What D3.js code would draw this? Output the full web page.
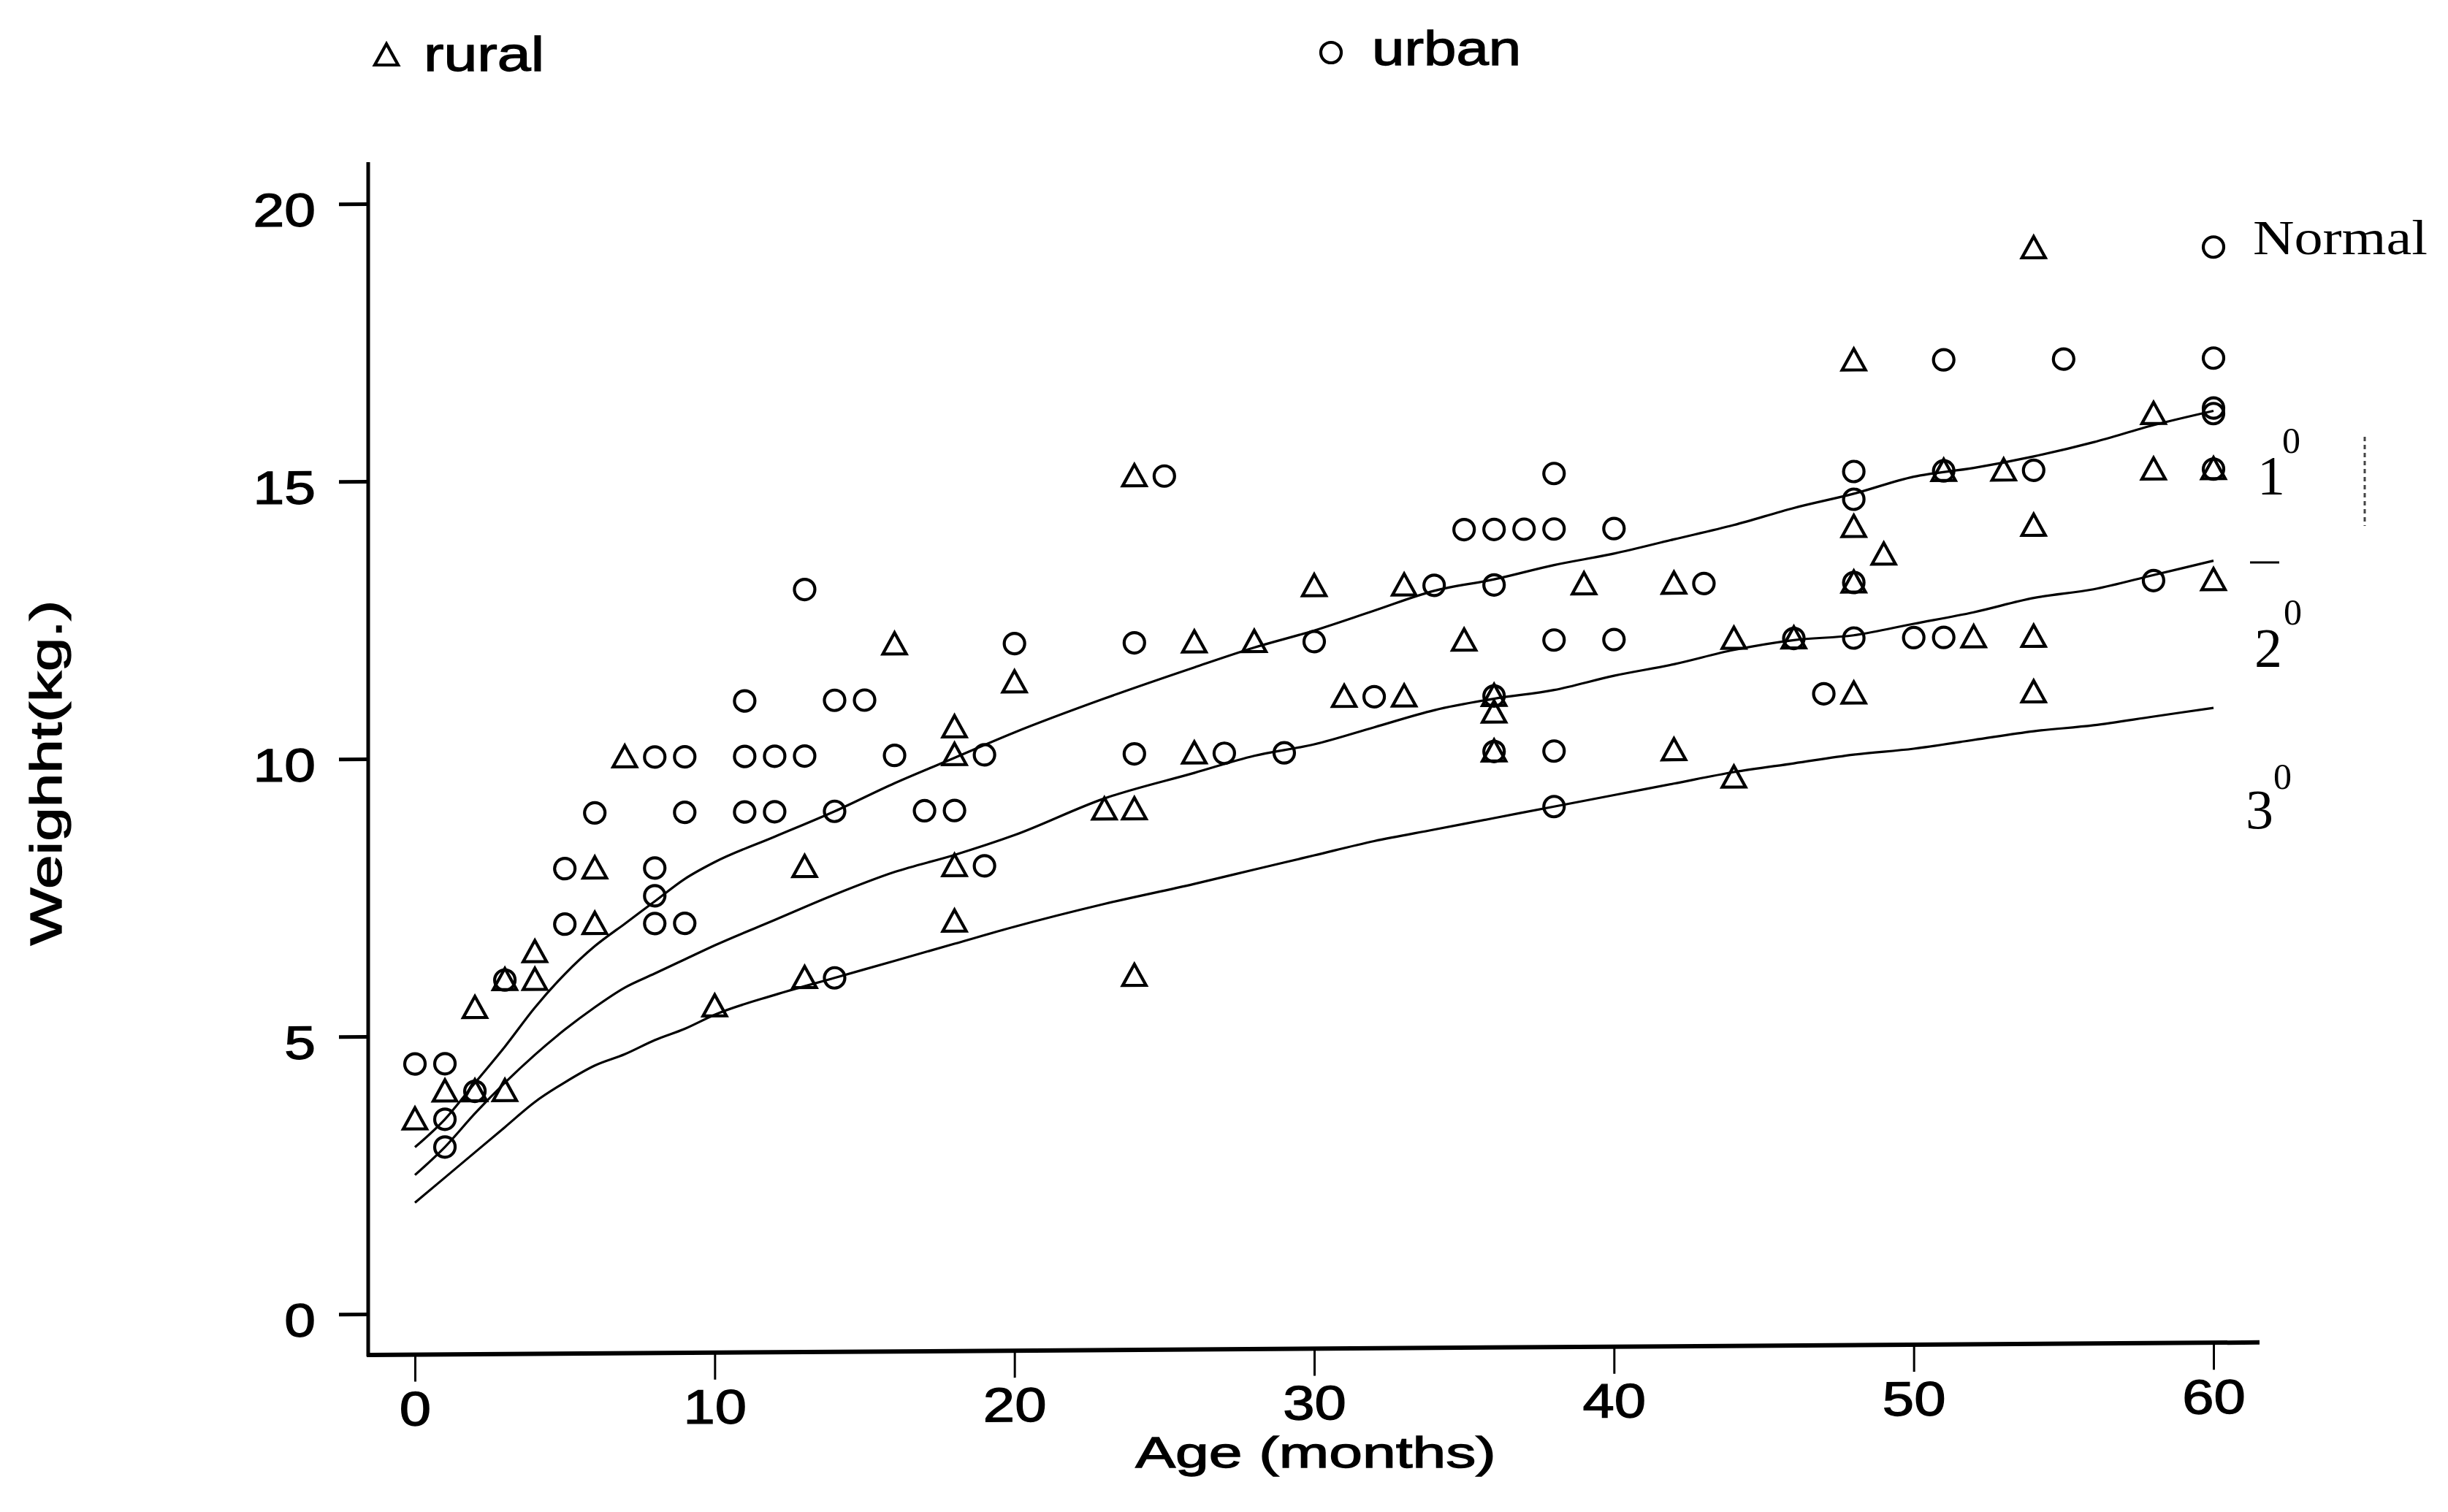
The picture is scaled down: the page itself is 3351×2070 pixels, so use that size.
<!DOCTYPE html>
<html>
<head>
<meta charset="utf-8">
<script src="https://cdn.jsdelivr.net/npm/d3@7"></script>
<style>
  html, body { margin: 0; padding: 0; background: #ffffff; }
  svg { display: block; }
</style>
</head>
<body>
<svg id="chart"></svg>
<script>
// axis ticks
const xTicks = [0, 10, 20, 30, 40, 50, 60];
const yTicks = [0, 5, 10, 15, 20];

// rural children (triangles): [age in months, weight in kg]
const ruralPoints = [
  [0, 3.5], [1, 4], [2, 5.5], [2, 4], [3, 6], [3, 4], [4, 6.5], [4, 6],
  [6, 8], [6, 7], [7, 10], [10, 5.5], [13, 8], [13, 6], [16, 12],
  [18, 10.5], [18, 10], [18, 8], [18, 7], [20, 11.3], [23, 9], [24, 15],
  [24, 9], [24, 6], [26, 12], [26, 10], [28, 12], [30, 13], [31, 11],
  [33, 13], [33, 11], [35, 12], [36, 11], [36, 10.7], [36, 10], [39, 13],
  [42, 13], [42, 10], [44, 12], [44, 9.5], [46, 12], [48, 17], [48, 14],
  [48, 13], [48, 11], [49, 13.5], [51, 15], [52, 12], [53, 15], [54, 19],
  [54, 14], [54, 12], [54, 11], [58, 16], [58, 15], [60, 15], [60, 13]
];

// urban children (circles): [age in months, weight in kg]
const urbanPoints = [
  [0, 4.5], [1, 4.5], [1, 3.5], [1, 3], [2, 4], [3, 6], [5, 8], [5, 7],
  [6, 9], [8, 10], [8, 8], [8, 7.5], [8, 7], [9, 10], [9, 9], [9, 7],
  [11, 11], [11, 10], [11, 9], [12, 10], [12, 9], [13, 13], [13, 10],
  [14, 11], [14, 9], [14, 6], [15, 11], [16, 10], [17, 9], [18, 9],
  [19, 10], [19, 8], [20, 12], [24, 12], [24, 10], [25, 15], [27, 10],
  [29, 10], [30, 12], [32, 11], [34, 13], [35, 14], [36, 14], [36, 13],
  [36, 11], [36, 10], [37, 14], [38, 15], [38, 14], [38, 12], [38, 10],
  [38, 9], [40, 14], [40, 12], [43, 13], [46, 12], [47, 11], [48, 15],
  [48, 14.5], [48, 13], [48, 12], [50, 12], [51, 17], [51, 15], [51, 12],
  [54, 15], [55, 17], [58, 13], [60, 19], [60, 17], [60, 16.1], [60, 16],
  [60, 15]
];

// reference curves between the grades
const curveAges = [0, 1, 2, 3, 4, 5, 6, 7, 8, 9, 10, 12, 14, 16, 18, 20, 23, 26, 28, 30,
  32, 34, 36, 38, 40, 42, 44, 46, 48, 50, 52, 54, 56, 58, 60];
const gradeLine1 = [3.0, 3.5, 4.15, 4.8, 5.5, 6.1, 6.6, 7.0, 7.4, 7.8, 8.1, 8.55, 9.0, 9.5,
  9.95, 10.4, 11.0, 11.55, 11.9, 12.2, 12.55, 12.9, 13.1, 13.35, 13.55, 13.8, 14.05, 14.35,
  14.6, 14.9, 15.05, 15.25, 15.5, 15.8, 16.05];
const gradeLine2 = [2.5, 3.0, 3.6, 4.15, 4.65, 5.1, 5.5, 5.85, 6.1, 6.35, 6.6, 7.05, 7.5, 7.9,
  8.2, 8.55, 9.2, 9.65, 9.95, 10.15, 10.45, 10.75, 10.95, 11.1, 11.35, 11.55, 11.8, 11.97,
  12.05, 12.25, 12.45, 12.7, 12.85, 13.1, 13.35];
const gradeLine3 = [2.0, 2.45, 2.9, 3.35, 3.8, 4.15, 4.45, 4.65, 4.9, 5.1, 5.35, 5.7, 6.0, 6.3,
  6.6, 6.9, 7.3, 7.65, 7.9, 8.15, 8.4, 8.6, 8.8, 9.0, 9.2, 9.4, 9.6, 9.75, 9.9, 10.0, 10.15,
  10.3, 10.4, 10.55, 10.7];

// labels
const gradeNames = ["1", "2", "3"];
const seriesNames = ["rural", "urban"];

const SANS = "'Liberation Sans', Arial, sans-serif";
const SERIF = "'Liberation Serif', 'Times New Roman', serif";

/**
 * Stretches text along its baseline, the scanned chart uses a wide type.
 * @param {*} sel The text selection.
 * @param {*} factor How much wider than normal.
 */
function stretchText(sel, factor) {
  sel.each(function () {
    const w = this.getComputedTextLength();
    d3.select(this)
      .attr("textLength", w * factor)
      .attr("lengthAdjust", "spacingAndGlyphs");
  });
}

/**
 * Makes the sans text a little heavier, like the scan.
 */
function inkText(sel) {
  sel.attr("fill", "#000").attr("stroke", "#000").attr("stroke-width", 1.3);
}

/**
 * Path for the open triangle marker.
 */
function trianglePath() {
  return "M0,-16L16,13L-16,13Z";
}

/**
 * Draws the axes of the chart.
 */
function drawAxes(g, x, y) {
  // y axis
  var yAxis = g
    .append("g")
    .attr("transform", "translate(504,0)")
    .call(d3.axisLeft(y).tickValues(yTicks).tickSize(40).tickPadding(32));
  yAxis.select(".domain").remove();
  yAxis.selectAll(".tick line").attr("stroke", "#000").attr("stroke-width", 5);
  yAxis
    .selectAll(".tick text")
    .attr("y", 9)
    .attr("font-family", SANS)
    .attr("font-size", 64)
    .call(inkText)
    .call(stretchText, 1.2);

  g.append("line")
    .attr("x1", 504)
    .attr("x2", 504)
    .attr("y1", 222)
    .attr("y2", 1857)
    .attr("stroke", "#000")
    .attr("stroke-width", 5);

  // x axis
  var xAxis = g
    .append("g")
    .attr("transform", "translate(0,1855)")
    .call(d3.axisBottom(x).tickValues(xTicks).tickSize(37).tickPadding(13));
  xAxis.select(".domain").remove();
  xAxis.selectAll(".tick line").attr("stroke", "#000").attr("stroke-width", 3);
  xAxis
    .selectAll(".tick text")
    .attr("font-family", SANS)
    .attr("font-size", 66)
    .call(inkText)
    .call(stretchText, 1.18);

  g.append("line")
    .attr("x1", 502)
    .attr("x2", 3093)
    .attr("y1", 1855)
    .attr("y2", 1855)
    .attr("stroke", "#000")
    .attr("stroke-width", 6);
}

/**
 * Draws the three grade curves.
 */
function drawCurves(g, x, y) {
  var line = d3
    .line()
    .x((d) => x(d[0]))
    .y((d) => y(d[1]))
    .curve(d3.curveMonotoneX);

  [gradeLine1, gradeLine2, gradeLine3].forEach((values) => {
    g.append("path")
      .datum(curveAges.map((a, i) => [a, values[i]]))
      .attr("d", line)
      .attr("fill", "none")
      .attr("stroke", "#000")
      .attr("stroke-width", 3.2);
  });
}

/**
 * Draws the rural triangles and urban circles.
 */
function drawPoints(g, x, y) {
  g.append("g")
    .attr("class", "rural")
    .selectAll("path")
    .data(ruralPoints)
    .enter()
    .append("path")
    .attr("transform", (d) => "translate(" + x(d[0]) + "," + y(d[1]) + ")")
    .attr("d", trianglePath())
    .attr("fill", "none")
    .attr("stroke", "#000")
    .attr("stroke-width", 4.2);

  g.append("g")
    .attr("class", "urban")
    .selectAll("circle")
    .data(urbanPoints)
    .enter()
    .append("circle")
    .attr("cx", (d) => x(d[0]))
    .attr("cy", (d) => y(d[1]))
    .attr("r", 14)
    .attr("fill", "none")
    .attr("stroke", "#000")
    .attr("stroke-width", 4.2);
}

/**
 * Legend, titles and the grade labels on the right.
 */
function drawLabels(svg) {
  // legend on top
  svg.append("path")
    .attr("transform", "translate(529,76)")
    .attr("d", trianglePath())
    .attr("fill", "none")
    .attr("stroke", "#000")
    .attr("stroke-width", 4.2);
  svg.append("text")
    .attr("x", 580)
    .attr("y", 97)
    .attr("font-family", SANS)
    .attr("font-size", 66)
    .text(seriesNames[0])
    .call(inkText)
    .call(stretchText, 1.25);

  svg.append("circle")
    .attr("cx", 1822)
    .attr("cy", 72)
    .attr("r", 14)
    .attr("fill", "none")
    .attr("stroke", "#000")
    .attr("stroke-width", 4.2);
  svg.append("text")
    .attr("x", 1878)
    .attr("y", 89)
    .attr("font-family", SANS)
    .attr("font-size", 66)
    .text(seriesNames[1])
    .call(inkText)
    .call(stretchText, 1.21);

  // axis titles
  svg.append("text")
    .attr("x", 1801)
    .attr("y", 2009)
    .attr("text-anchor", "middle")
    .attr("font-family", SANS)
    .attr("font-size", 60)
    .text("Age (months)")
    .call(inkText)
    .call(stretchText, 1.37);

  svg.append("text")
    .attr("transform", "translate(84,1058) rotate(-90)")
    .attr("text-anchor", "middle")
    .attr("font-family", SANS)
    .attr("font-size", 62)
    .text("Weighht(kg.)")
    .call(inkText)
    .call(stretchText, 1.35);

  // grade labels
  svg.append("text")
    .attr("x", 3084)
    .attr("y", 348)
    .attr("font-family", SERIF)
    .attr("font-size", 68)
    .text("Normal")
    .call(stretchText, 1.15);

  const gradePos = [
    { x: 3090, y: 677, sx: 3124, sy: 620 },
    { x: 3086, y: 913, sx: 3126, sy: 855 },
    { x: 3074, y: 1134, sx: 3112, sy: 1080 },
  ];
  gradeNames.forEach((name, i) => {
    const p = gradePos[i];
    svg.append("text")
      .attr("x", p.x)
      .attr("y", p.y)
      .attr("font-family", SERIF)
      .attr("font-size", 76)
      .text(name);
    svg.append("text")
      .attr("x", p.sx)
      .attr("y", p.sy)
      .attr("font-family", SERIF)
      .attr("font-size", 50)
      .text("0");
  });

  // little dash and the scan mark beside it
  svg.append("line")
    .attr("x1", 3080)
    .attr("x2", 3120)
    .attr("y1", 770)
    .attr("y2", 770)
    .attr("stroke", "#000")
    .attr("stroke-width", 3);
  svg.append("line")
    .attr("x1", 3237)
    .attr("x2", 3237)
    .attr("y1", 598)
    .attr("y2", 720)
    .attr("stroke", "#444")
    .attr("stroke-width", 3)
    .attr("stroke-dasharray", "6 5");
}

function createChart() {
  const WIDTH = 3351;
  const HEIGHT = 2070;

  var svg = d3
    .select("#chart")
    .attr("width", WIDTH)
    .attr("height", HEIGHT)
    .attr("viewBox", [0, 0, WIDTH, HEIGHT]);

  svg.append("rect").attr("width", WIDTH).attr("height", HEIGHT).attr("fill", "#fff");

  var x = d3.scaleLinear().domain([0, 60]).range([568, 3030]);
  var y = d3.scaleLinear().domain([0, 20]).range([1799, 279]);

  // the scanned plot leans a little to the upper right
  var plot = svg
    .append("g")
    .attr("transform", "translate(504,0) skewY(-0.38) translate(-504,0)");

  drawAxes(plot, x, y);
  drawCurves(plot, x, y);
  drawPoints(plot, x, y);
  drawLabels(svg);
}

createChart();
</script>
</body>
</html>
